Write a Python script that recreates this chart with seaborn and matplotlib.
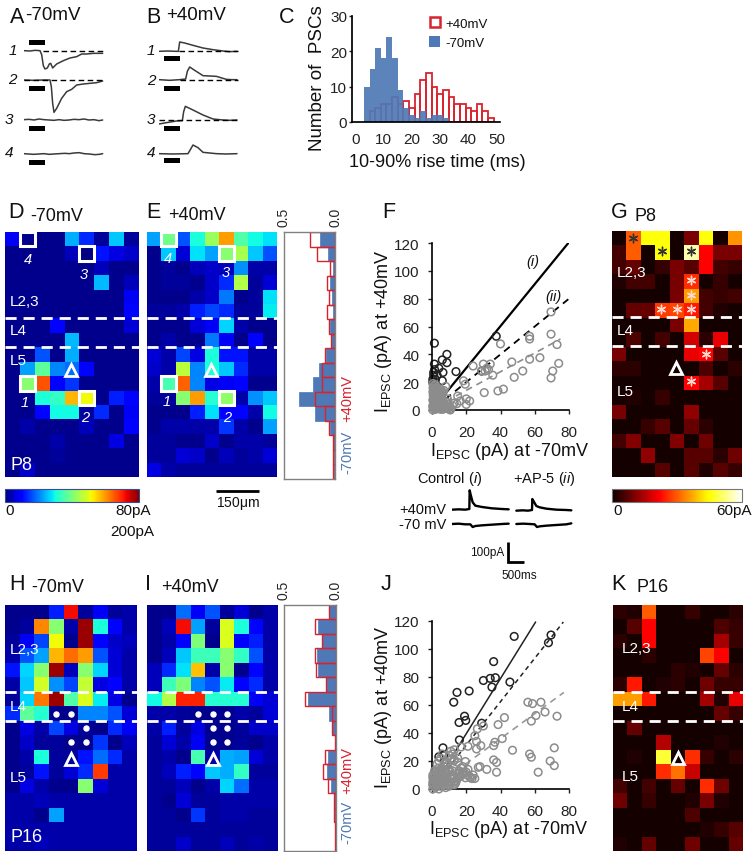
import numpy as np
import matplotlib
matplotlib.use('Agg')
import matplotlib.pyplot as plt
from matplotlib.patches import Rectangle
from matplotlib.cm import ScalarMappable
from matplotlib.colors import Normalize
import seaborn as sns

W, H = 754, 853

# ---- heat maps: 17 rows x 9 columns, values in pA
map_d = [
    [10, 3, 3, 3, 25, 15, 4, 27, 4],
    [3, 3, 3, 3, 6, 2, 13, 9, 7],
    [3, 3, 3, 3, 3, 3, 6, 3, 3],
    [3, 3, 3, 3, 3, 3, 26, 3, 6],
    [3, 3, 3, 3, 3, 3, 3, 3, 10],
    [3, 3, 3, 3, 3, 3, 3, 3, 12],
    [3, 3, 3, 12, 3, 3, 3, 3, 8],
    [3, 3, 3, 3, 26, 3, 3, 3, 3],
    [3, 3, 18, 3, 25, 3, 3, 3, 3],
    [3, 24, 38, 22, 20, 12, 3, 3, 3],
    [3, 42, 66, 11, 16, 3, 3, 3, 3],
    [3, 3, 32, 34, 58, 52, 3, 14, 12],
    [3, 3, 12, 31, 31, 4, 15, 3, 10],
    [3, 5, 3, 3, 3, 6, 3, 3, 12],
    [3, 3, 3, 5, 3, 3, 3, 9, 3],
    [3, 3, 3, 4, 3, 3, 3, 3, 3],
    [3, 7, 3, 3, 3, 3, 3, 3, 3],
]
map_e = [
    [24, 40, 18, 32, 44, 60, 37, 31, 29],
    [3, 27, 8, 29, 24, 42, 45, 27, 18],
    [3, 4, 3, 6, 7, 6, 23, 5, 5],
    [3, 4, 4, 3, 7, 15, 46, 4, 8],
    [3, 3, 3, 5, 7, 21, 3, 4, 29],
    [4, 4, 5, 14, 17, 15, 4, 4, 30],
    [3, 3, 3, 8, 10, 28, 5, 3, 3],
    [3, 5, 3, 3, 21, 10, 3, 11, 3],
    [8, 5, 17, 9, 32, 13, 13, 5, 5],
    [7, 5, 47, 22, 32, 27, 15, 5, 5],
    [5, 36, 65, 22, 9, 10, 12, 3, 3],
    [4, 4, 42, 60, 33, 43, 5, 23, 27],
    [3, 3, 3, 14, 29, 12, 12, 5, 31],
    [3, 5, 5, 5, 5, 16, 5, 3, 24],
    [4, 4, 3, 3, 7, 3, 5, 5, 4],
    [4, 4, 8, 7, 3, 6, 4, 5, 8],
    [9, 5, 4, 4, 4, 4, 4, 4, 4],
]
map_g = [
    [1, 30, 45, 45, 1, 10, 45, 1, 35],
    [5, 30, 1, 45, 1, 55, 22, 10, 10],
    [5, 8, 1, 4, 10, 7, 22, 5, 4],
    [2, 5, 5, 1, 10, 26, 1, 4, 1],
    [1, 1, 1, 1, 10, 36, 5, 4, 5],
    [1, 8, 8, 27, 28, 24, 5, 2, 1],
    [1, 1, 1, 1, 10, 37, 1, 1, 1],
    [1, 6, 1, 5, 1, 18, 3, 20, 1],
    [10, 1, 1, 1, 1, 20, 22, 7, 1],
    [3, 3, 1, 1, 1, 1, 6, 1, 3],
    [1, 1, 1, 1, 1, 22, 14, 7, 1],
    [1, 2, 1, 4, 1, 1, 1, 1, 1],
    [10, 1, 1, 1, 1, 12, 1, 1, 1],
    [1, 1, 4, 7, 1, 8, 3, 1, 1],
    [5, 11, 1, 1, 11, 1, 9, 1, 1],
    [1, 1, 12, 1, 1, 7, 7, 3, 9],
    [1, 1, 1, 7, 1, 7, 2, 7, 4],
]
map_h = [
    [3, 3, 3, 14, 72, 4, 10, 4, 5],
    [3, 4, 62, 42, 5, 78, 32, 12, 5],
    [4, 10, 17, 52, 3, 78, 12, 7, 6],
    [5, 18, 24, 58, 64, 60, 18, 8, 5],
    [13, 28, 42, 78, 6, 42, 28, 8, 5],
    [5, 27, 49, 23, 17, 48, 9, 12, 5],
    [4, 28, 63, 78, 37, 50, 30, 9, 3],
    [15, 38, 33, 3, 3, 22, 22, 18, 8],
    [3, 9, 5, 17, 9, 4, 3, 15, 10],
    [3, 7, 4, 4, 3, 3, 16, 3, 6],
    [3, 5, 32, 4, 4, 13, 20, 15, 5],
    [3, 4, 13, 4, 8, 15, 68, 5, 5],
    [3, 9, 5, 3, 3, 42, 8, 5, 5],
    [5, 5, 6, 5, 5, 5, 5, 5, 5],
    [5, 5, 3, 24, 5, 5, 5, 5, 5],
    [5, 5, 5, 5, 5, 5, 5, 5, 5],
    [5, 5, 6, 5, 5, 5, 5, 5, 5],
]
map_i = [
    [3, 3, 20, 10, 18, 4, 8, 3, 5],
    [3, 6, 72, 24, 4, 50, 32, 12, 5],
    [3, 5, 12, 41, 3, 50, 11, 14, 5],
    [3, 6, 27, 35, 35, 42, 34, 18, 5],
    [6, 15, 29, 57, 5, 42, 3, 12, 5],
    [6, 35, 41, 22, 18, 30, 12, 15, 5],
    [31, 46, 70, 70, 33, 33, 33, 10, 8],
    [5, 5, 4, 3, 3, 3, 5, 4, 8],
    [5, 14, 4, 9, 3, 3, 4, 7, 7],
    [4, 8, 5, 10, 3, 3, 4, 3, 5],
    [4, 5, 3, 36, 5, 25, 24, 8, 5],
    [4, 6, 14, 12, 27, 25, 34, 4, 4],
    [4, 4, 6, 3, 5, 28, 20, 5, 5],
    [4, 3, 8, 4, 4, 5, 5, 5, 5],
    [4, 4, 3, 16, 4, 5, 5, 4, 4],
    [4, 4, 4, 4, 4, 4, 4, 4, 4],
    [4, 4, 7, 4, 4, 6, 4, 5, 4],
]
map_k = [
    [3, 2, 30, 1, 1, 4, 1, 1, 3],
    [1, 7, 22, 1, 1, 1, 1, 6, 4],
    [3, 1, 22, 1, 1, 1, 1, 14, 4],
    [1, 1, 3, 1, 1, 1, 28, 22, 1],
    [1, 1, 1, 1, 3, 2, 1, 8, 3],
    [3, 24, 1, 2, 3, 1, 9, 4, 4],
    [36, 36, 24, 1, 1, 1, 14, 2, 20],
    [1, 1, 1, 1, 1, 1, 1, 8, 4],
    [1, 8, 1, 1, 1, 1, 1, 1, 1],
    [1, 1, 1, 15, 1, 1, 1, 2, 1],
    [1, 2, 1, 48, 1, 26, 4, 1, 3],
    [1, 1, 1, 26, 32, 17, 1, 1, 1],
    [5, 1, 5, 1, 8, 1, 26, 9, 1],
    [9, 1, 4, 1, 1, 2, 10, 2, 1],
    [1, 1, 1, 1, 1, 6, 1, 1, 1],
    [1, 1, 1, 1, 1, 1, 2, 4, 7],
    [2, 1, 8, 1, 1, 9, 1, 1, 8],
]

# ---- side histograms per row
side_e_blue = [.148, .07, .02, .05, .03, .02, .05, .04, .09, .155, .215, .35, .2, .05, .015, .01, .01]
side_e_red = [.25, .18, .05, .075, .055, .08, .055, .04, .095, .13, .13, .2, .1, .055, .02, .02, .02]
side_i_blue = [.07, .175, .13, .185, .17, .1, .27, .07, .04, .005, .075, .09, .05, .015, .015, .01, .01]
side_i_red = [.07, .2, .13, .2, .19, .1, .3, .035, .04, .005, .11, .125, .075, .015, .015, .01, .01]

# ---- panel C rise times
rise_blue_left = [3, 5, 7, 9, 11, 13, 15, 17, 19, 21, 23, 25, 27, 29, 31]
rise_blue = [10, 15, 21, 18, 24, 18, 9, 4, 2, 1, 3, 1, 2, 2, 1]
rise_red_left = [5, 7, 9, 11, 13, 15, 17, 19, 21, 23, 25, 27, 29, 31, 33, 35, 37, 39, 41, 43, 45, 47]
rise_red = [3, 4, 5, 5, 7, 5, 6, 4, 8, 12, 14, 10, 8, 9, 7, 5, 5, 4, 3, 5, 3, 1]

# ---- scatter F
f_black_x = [1.4, 1.4, 6, 8.7, 8.7, 6.4, 6, 14, 37.5, 29, 1, 1, 0.5, 0.5, 1, 1.5, 2, 3, 4]
f_black_y = [48, 33, 36, 40, 34, 27, 21, 27.6, 53, 28, 27, 25, 22, 20, 18, 29, 22, 25, 30]
f_grey_x = [40, 57, 57, 69.5, 69.5, 73, 74, 70.5, 69.5, 63, 57, 53, 48, 46.6, 41.7, 38.5, 30.5, 35.5,
            24, 30, 34, 32, 33, 31, 29, 18.4, 19.4, 22, 20, 20, 16.5, 14.5, 10.7,
            0.5, 1, 0.5, 1.5, 2, 1, 0.5, 2.5, 3, 1, 4, 2, 3, 5, 1.5, 0.5, 6, 4, 7, 5, 3, 8, 6, 2, 9, 7, 4,
            10, 8, 5, 1, 3, 11, 6, 0.5, 2, 4, 12, 9, 7, 5, 13, 3, 1, 8, 6, 15,
            0.5, 1.2, 2.2, 3.1, 4.3, 5.2, 6.3, 7.2, 8.3, 9.4, 10.2, 0.8, 1.7, 2.6, 3.5, 4.6, 5.7, 6.6, 7.7, 8.6,
            1.1, 2.1, 3.2, 4.1, 5.3, 6.2, 0.6, 1.6, 2.7, 3.8, 4.9, 1.3, 2.4, 0.7, 1.8]
f_grey_y = [47.5, 53, 51, 54.5, 70.5, 47, 33.5, 28, 23, 37.6, 36.5, 28, 23.5, 34.5, 15, 13.7, 12.5, 25,
            31.6, 33, 33, 30, 29, 28, 28, 21, 18.5, 6.5, 8, 4, 6.5, 4.5, 0,
            0, 1, 3, 2, 0.5, 5, 7, 4, 1, 9, 3, 7, 6, 0.5, 11, 13, 2, 5, 1, 4, 9, 3, 6, 15, 1, 4, 8,
            2, 6, 10, 17, 12, 1, 4, 19, 18, 11, 3, 8, 14, 15, 5, 16, 15, 17, 12, 10,
            2.5, 4, 1.5, 6, 2, 8, 0.5, 3, 1.5, 4, 0.5, 8, 6, 10, 3, 7, 9, 5, 2.5, 5.5,
            11, 12, 13, 10, 12, 13, 16, 14, 9, 13, 11, 18, 16, 10.5, 9]
f_line_x = [2, 79.6]
f_line_i = [3, 120]
f_line_ii = [2, 79.6]
f_line_grey = [2, 51]
f_line_grey_x = [2, 75]

# ---- scatter J
j_black_x = [48, 69.5, 68, 36, 30, 34, 37, 35, 45.5, 21.7, 14.6, 12.7, 19, 19.7, 15.8, 29, 16, 6.4, 4, 6.8]
j_black_y = [109, 110, 104.5, 91, 77.5, 79, 79.5, 72.8, 76.4, 70, 69, 62, 52, 49, 47.5, 47, 35, 29.4, 23, 24]
j_grey_x = [73, 66, 63.6, 58.7, 56, 60.7, 58, 42.3, 38.6, 30, 26.5, 25, 41, 36.7, 36, 26, 28.5, 26, 21, 17,
            47, 57, 58, 71.4, 69, 71.4, 62, 37.7, 36, 37.7, 32, 27, 28, 19.5, 18, 20, 24, 22, 25, 21,
            0.5, 1, 0.5, 2, 1, 3, 0.5, 2, 4, 1, 3, 5, 2, 6, 4, 0.5, 7, 3, 5, 8, 1.5, 6, 9, 4, 7, 10, 2, 5, 8, 11,
            3, 6, 9, 12, 13, 7, 10, 14, 4, 8, 11, 15, 5, 9, 12, 16, 6, 13, 14, 17, 10, 15, 18, 11, 16, 12, 13, 15,
            0.4, 1.3, 2.4, 3.5, 4.6, 5.7, 6.4, 7.5, 8.6, 9.7, 10.5, 11.6, 1.6, 2.7, 3.8, 4.4, 5.4, 6.8, 7.8, 8.8,
            9.5, 10.8, 12.5, 13.6, 14.5, 15.7, 16.6, 17.5, 18.6, 19.5, 20.4, 22.5, 23.4, 5.6, 7.2, 8.4, 11.2, 12.8]
j_grey_y = [52, 55, 62, 61, 62, 52.5, 48.5, 51, 46, 45, 43, 38, 36, 33.4, 31, 34, 31, 28.6, 30.5, 30,
            27.7, 25, 22.7, 29.4, 20, 16.7, 12, 12, 20.8, 19, 14, 15.5, 16, 19.6, 16, 12, 10, 9, 7.5, 14,
            0, 2, 5, 1, 8, 3, 10, 6, 0, 4, 7, 2, 10, 5, 9, 8, 3, 12, 6, 1, 13, 10, 4, 15, 7, 2, 12, 14, 9, 5,
            18, 13, 11, 7, 3, 16, 14, 6, 20, 18, 10, 8, 22, 17, 13, 11, 25, 21, 5, 15, 24, 19, 12, 27, 9, 25, 28, 22,
            3, 6, 4, 7, 3.5, 9, 6, 4.5, 7, 3, 5, 8, 10, 8, 11, 6.5, 13, 2.5, 11, 5.5,
            14, 12, 9, 4, 7, 13, 9, 11, 12, 8, 10, 8, 7.5, 15, 16, 19, 21, 20]
j_line_x = [3, 60.5]
j_line_i = [6, 119.3]
j_line_ii_x = [3, 76.7]
j_line_ii = [5, 119.3]
j_line_grey_x = [3, 77]
j_line_grey = [3, 69]

# ---- example currents, panels A and B (time in a.u., current in a.u.)
a1_t = [0, 18, 33, 48, 53, 58, 63, 70, 76, 80, 86, 98, 118, 138, 158, 173, 188, 208, 236]
a1_i = [0, -1, 1, 0, -12, -45, -55, -52, -40, -38, -52, -40, -30, -22, -18, -10, -10, -8, -8]
a2_t = [0, 28, 58, 78, 82, 86, 90, 98, 113, 128, 143, 158, 178, 198, 218, 236]
a2_i = [0, -1, 0, 0, -20, -70, -97, -85, -55, -35, -28, -15, -12, -10, -8, -3]
a3_t = [0, 15, 30, 45, 60, 75, 90, 105, 120, 135, 150, 165, 180, 195, 210, 225, 236]
a3_i = [0, 1, -1, 2, 0, -1, -2, 0, -2, -1, 1, 0, 2, -1, 0, -3, -1]
a4_t = [0, 14, 29, 44, 60, 76, 90, 106, 122, 136, 150, 166, 180, 196, 212, 226, 236]
a4_i = [0, -1, -2, -1, 0, -2, -1, 0, 1, 0, 2, 3, 0, -1, -3, -2, 0]
b1_t = [0, 26, 52, 58, 62, 77, 102, 132, 162, 192, 210, 234]
b1_i = [0, 1, 0, 0, 28, 25, 18, 10, 5, 1, -1, 0]
b2_t = [0, 32, 62, 80, 85, 92, 107, 132, 172, 202, 218, 234]
b2_i = [0, -2, 0, 2, 25, 38, 28, 12, 10, 1, 0, 0]
b3_t = [0, 22, 52, 70, 74, 79, 102, 132, 162, 192, 212, 234]
b3_i = [-12, -8, -3, -2, 25, 41, 30, 15, 3, 0, -1, 0]
b4_t = [0, 40, 87, 94, 102, 117, 132, 172, 200, 234]
b4_i = [0, -1, 0, 12, 26, 18, 4, 0, -1, 0]

# ---- inset traces under panel F
ctrl_pos_t = [0, 20, 40, 52, 53, 56, 62, 70, 90, 120, 150, 170]
ctrl_pos_i = [0, 1, 0, 2, 58, 45, 22, 12, 8, 4, 2, 1]
ap5_pos_t = [0, 20, 35, 47, 48, 52, 60, 70, 90, 120, 150, 165]
ap5_pos_i = [0, 1, 0, 2, 35, 28, 14, 10, 6, 3, 2, 1]
ctrl_neg_t = [0, 20, 40, 55, 62, 70, 90, 120, 150, 170]
ctrl_neg_i = [0, 1, -1, -1, -9, -6, -4, -2, 0, 1]
ap5_neg_t = [0, 20, 40, 55, 62, 70, 90, 120, 150, 165]
ap5_neg_i = [0, 1, 0, -1, -9, -7, -5, -3, -1, 2]

BLUE = '#4f79b6'
RED = '#d8232f'
sns.set_theme(style='ticks')
plt.rcParams['font.family'] = ['Liberation Sans', 'DejaVu Sans']
plt.rcParams['mathtext.fontset'] = 'custom'
plt.rcParams['mathtext.rm'] = 'Liberation Sans'
plt.rcParams['mathtext.it'] = 'Liberation Sans:italic'
plt.rcParams['mathtext.default'] = 'regular'

fig = plt.figure(figsize=(W / 100, H / 100), dpi=100)


def px_axes(x0, y0, x1, y1):
    return fig.add_axes([x0 / W, 1 - y1 / H, (x1 - x0) / W, (y1 - y0) / H])


def draw_map(box, values, cmap, vmin, vmax, dashes, triangle):
    ax = px_axes(*box)
    sns.heatmap(np.array(values), ax=ax, cmap=cmap, vmin=vmin, vmax=vmax, cbar=False,
                xticklabels=False, yticklabels=False)
    for y in dashes:
        ax.plot([0, 9], [y, y], color='white', lw=2, dashes=(4, 2.5))
    ax.plot([triangle[0]], [triangle[1]], marker='^', ms=8.5, mfc='none', mec='white', mew=2, clip_on=False)
    return ax


def white_boxes(ax, cells):
    for col, row in cells:
        ax.add_patch(Rectangle((col, row), 1, 1, fill=False, ec='white', lw=2.2, zorder=5))


def white_dots(ax, cells):
    xs = [c[0] for c in cells]
    ys = [c[1] for c in cells]
    ax.scatter(xs, ys, s=13, color='white', zorder=5)


def side_hist(box, blue, red):
    ax = px_axes(*box)
    rows = np.arange(17) + 0.5
    edges = list(range(18))
    sns.histplot(y=rows, weights=blue, bins=edges, ax=ax, color=BLUE, alpha=1, edgecolor=BLUE, linewidth=0.5)
    sns.histplot(y=rows, weights=red, bins=edges, ax=ax, color=RED, fill=False, linewidth=1)
    ax.set_xlim(0.5, 0)
    ax.set_ylim(17, 0)
    ax.set_xlabel('')
    ax.set_ylabel('')
    ax.set_yticks([])
    ax.xaxis.tick_top()
    ax.set_xticks([0.5, 0.0])
    ax.set_xticklabels(['0.5', '0.0'], rotation=90, fontsize=10)
    ax.tick_params(axis='x', length=0, pad=4)
    for s in ax.spines.values():
        s.set_color('#808080')
        s.set_visible(True)
        s.set_linewidth(1)
    return ax


def draw_traces(box, ylim, traces, color='#3a3a3a', lw=1.1):
    ax = px_axes(*box)
    xmax = (box[2] - box[0]) * 3
    for t, i, x_off, base in traces:
        sns.lineplot(x=np.array(t) + x_off, y=base - np.array(i), ax=ax, color=color, lw=lw,
                     estimator=None, sort=False)
    ax.set_xlim(0, xmax)
    ax.set_ylim(*ylim)
    ax.axis('off')
    return ax


def iv_scatter(box, bx, by, gx, gy, lines):
    ax = px_axes(*box)
    for x, y, col, style, lw in lines:
        sns.lineplot(x=x, y=y, ax=ax, color=col, lw=lw, linestyle=style, estimator=None, sort=False, zorder=1)
    sns.scatterplot(x=bx, y=by, ax=ax, s=30, facecolor='none', edgecolor='#222222', linewidth=1.1, clip_on=False,
                    zorder=2)
    sns.scatterplot(x=gx, y=gy, ax=ax, s=30, facecolor='none', edgecolor='#8c8c8c', linewidth=1.1, clip_on=False,
                    zorder=3)
    ax.set_xlim(0, 80)
    ax.set_ylim(0, 120)
    ax.set_xticks([0, 20, 40, 60, 80])
    ax.set_yticks([0, 20, 40, 60, 80, 100, 120])
    ax.tick_params(labelsize=11, length=3, width=1, colors='#222222')
    ax.tick_params(axis='x', pad=8)
    ax.tick_params(axis='y', pad=6)
    sns.despine(ax=ax)
    for s in ax.spines.values():
        s.set_color('black')
        s.set_linewidth(1.2)
    return ax


# ---- traces A / B
draw_traces((24, 40, 104, 175), (525, 120), [
    (a1_t, a1_i, 0, 155), (a2_t, a2_i, 0, 243), (a3_t, a3_i, 0, 362), (a4_t, a4_i, 0, 464)])
draw_traces((159, 40, 239, 175), (525, 120), [
    (b1_t, b1_i, 0, 157), (b2_t, b2_i, 0, 242), (b3_t, b3_i, 0, 363), (b4_t, b4_i, 0, 464)])

# ---- panel C
ax_c = px_axes(352, 17, 500, 123)
sns.histplot(x=np.array(rise_red_left) + 1, weights=rise_red, bins=list(range(5, 50, 2)), ax=ax_c,
             color=RED, fill=False, linewidth=1.3)
sns.histplot(x=np.array(rise_blue_left) + 1, weights=rise_blue, bins=list(range(3, 34, 2)), ax=ax_c,
             color=BLUE, alpha=0.92, edgecolor='none')
ax_c.set_xlim(-1.2, 51.2)
ax_c.set_ylim(0, 30)
ax_c.set_xticks([0, 10, 20, 30, 40, 50])
ax_c.set_yticks([0, 10, 20, 30])
ax_c.tick_params(axis='x', length=0, pad=7, labelsize=11, colors='#222222')
ax_c.tick_params(axis='y', length=2, width=1, pad=1.5, labelsize=11, colors='#222222')
ax_c.set_xlabel('')
ax_c.set_ylabel('')
sns.despine(ax=ax_c)
for s in ax_c.spines.values():
    s.set_color('black')

# ---- heat maps
ax_d = draw_map((5, 233, 139, 478), map_d, 'jet', 2, 80, [6, 7.95], (4.4, 9.6))
white_boxes(ax_d, [(1, 0), (5, 1), (1, 10), (5, 11)])
ax_e = draw_map((147, 233, 277, 478), map_e, 'jet', 2, 80, [6, 7.95], (4.4, 9.6))
white_boxes(ax_e, [(1, 0), (5, 1), (1, 10), (5, 11)])
ax_g = draw_map((612, 232, 742, 478), map_g, 'hot', 0, 60, [5.95, 7.95], (4.4, 9.5))
ax_g.scatter([1.45, 3.45, 5.5], [0.5, 1.4, 1.4], marker=(6, 2, 0), s=38, color='#333333', lw=1, zorder=5)
ax_g.scatter([5.5, 5.5, 3.4, 4.5, 5.5, 6.5, 5.5], [3.4, 4.45, 5.4, 5.4, 5.4, 8.5, 10.4], marker=(6, 2, 0),
             s=38, color='#ffd9d0', lw=1, zorder=5)
ax_h = draw_map((5, 606, 137, 852), map_h, 'jet', 2, 80, [6, 8], (4.5, 10.67))
white_dots(ax_h, [(3.5, 7.5), (4.5, 7.5), (5.5, 8.5), (4.5, 9.5), (5.5, 9.5)])
ax_i = draw_map((147, 606, 278, 852), map_i, 'jet', 2, 80, [6, 8], (4.5, 10.67))
white_dots(ax_i, [(3.5, 7.5), (4.5, 7.5), (5.5, 7.5), (4.5, 8.5), (5.5, 8.5), (4.5, 9.5), (5.5, 9.5)])
ax_k = draw_map((613, 606, 743, 852), map_k, 'hot', 0, 60, [6, 8], (4.5, 10.6))

side_hist((284, 233, 335, 480), side_e_blue, side_e_red)
side_hist((284, 606, 336, 852), side_i_blue, side_i_red)

# ---- color bars
for box, cmap, vmax, col in [((5, 490, 139, 503), 'jet', 80, '#3a4a9a'), ((612, 490, 742, 503), 'hot', 60, '#777777')]:
    cax = px_axes(*box)
    cb = fig.colorbar(ScalarMappable(Normalize(0, vmax), cmap), cax=cax, orientation='horizontal')
    cb.set_ticks([])
    cb.outline.set_edgecolor(col)
    cb.outline.set_linewidth(0.8)

# ---- scatter F / J
iv_scatter((432, 244, 569, 411), f_black_x, f_black_y, f_grey_x, f_grey_y, [
    (f_line_x, f_line_i, 'black', '-', 1.6),
    (f_line_x, f_line_ii, 'black', (0, (4, 3)), 1.3),
    (f_line_grey_x, f_line_grey, '#8c8c8c', (0, (4, 3)), 1.2)])
iv_scatter((432, 622, 569, 790), j_black_x, j_black_y, j_grey_x, j_grey_y, [
    (j_line_x, j_line_i, '#222222', '-', 1.1),
    (j_line_ii_x, j_line_ii, '#222222', (0, (3, 2.5)), 1.1),
    (j_line_grey_x, j_line_grey, '#9a9a9a', (0, (4, 3)), 1.2)])

# ---- inset traces
draw_traces((452, 485, 577, 535), (345, 195), [
    (ctrl_pos_t, ctrl_pos_i, 0, 272), (ap5_pos_t, ap5_pos_i, 193, 275),
    (ctrl_neg_t, ctrl_neg_i, 0, 315), (ap5_neg_t, ap5_neg_i, 193, 315)], color='black', lw=1.7)

# ---- everything in pixel position goes here
ov = fig.add_axes([0, 0, 1, 1], zorder=20)
ov.set_xlim(0, W)
ov.set_ylim(H, 0)
ov.axis('off')
ov.patch.set_alpha(0)


def txt(x, y, s, size=11.5, color='#111111', **kw):
    kw.setdefault('ha', 'left')
    kw.setdefault('va', 'center')
    ov.text(x, y, s, fontsize=size, color=color, **kw)


# stimulus bars and dashed baselines
for x0, ys in [(29, [41, 87, 127, 161]), (164, [57, 87, 127, 159])]:
    for y in ys:
        ov.add_patch(Rectangle((x0, y), 16, 4.5, color='black', lw=0))
for x0, x1, y in [(43, 103, 52), (24, 103, 81), (179, 238, 52), (180, 238, 81), (159, 238, 121)]:
    ov.plot([x0, x1], [y, y], color='black', lw=1, dashes=(4, 2.5))

# panel letters
for x, y, s in [(10, 17, 'A'), (146, 17, 'B'), (279, 17, 'C'), (8, 212, 'D'), (146, 212, 'E'), (382, 212, 'F'),
                (611, 212, 'G'), (9, 585, 'H'), (145, 585, 'I'), (381, 585, 'J'), (611, 585, 'K')]:
    txt(x, y, s, size=15.5)
for x, y, s in [(25, 15, '-70mV'), (166, 15, '+40mV')]:
    txt(x, y, s, size=13.5)
for x, y, s in [(30, 216, '-70mV'), (168, 215, '+40mV'), (634, 216, 'P8'),
                (31, 587, '-70mV'), (161, 587, '+40mV'), (637, 588, 'P16')]:
    txt(x, y, s, size=13)

# trace numbers
for x, y, s in [(9, 51, '1'), (8, 80, '2'), (5, 120, '3'), (5, 153, '4'), (147, 51, '1'), (147, 81, '2'),
                (147, 120, '3'), (147, 153, '4')]:
    txt(x, y, s, size=11, style='italic')
for x, y, s in [(28, 260, '4'), (84, 275, '3'), (25, 403, '1'), (85, 418, '2'),
                (168, 259, '4'), (226, 273, '3'), (167, 402, '1'), (227, 418, '2')]:
    txt(x, y, s, size=10.5, color='white', style='italic', ha='center')

# layer labels
for x, ys in [(10, (302, 331, 361)), (617, (273, 331, 392))]:
    for y, s in zip(ys, ['L2,3', 'L4', 'L5']):
        txt(x, y, s, size=11, color='white')
for x, ys in [(10, (650, 707, 778)), (622, (649, 707, 777))]:
    for y, s in zip(ys, ['L2,3', 'L4', 'L5']):
        txt(x, y, s, size=11, color='white')
txt(10, 466, 'P8', size=13, color='white')
txt(11, 838, 'P16', size=13, color='white')

# panel C labels
txt(318, 78, 'Number of  PSCs', size=13.5, rotation=90, ha='center')
txt(437, 162, '10-90% rise time (ms)', size=13, ha='center')
ov.add_patch(Rectangle((430, 18), 10, 10, fc='white', ec=RED, lw=1.8))
ov.add_patch(Rectangle((429, 37), 11, 11, fc=BLUE, ec='none'))
txt(445, 25, '+40mV', size=9.5)
txt(445, 44, '-70mV', size=9.5)

# color bar labels and scale bars
txt(5, 511, '0', size=11)
txt(115, 511, '80pA', size=11)
txt(110, 532, '200pA', size=11)
txt(613, 511, '0', size=11)
txt(716, 511, '60pA', size=11)
ov.plot([216, 259], [492, 492], color='black', lw=2, solid_capstyle='butt')
txt(238, 504, '150$\\mu$m', size=10, ha='center')

# rotated voltage labels
txt(347, 399, '+40mV', size=10.5, color=RED, rotation=90, ha='center')
txt(347, 452, '-70mV', size=10.5, color=BLUE, rotation=90, ha='center')
txt(347, 771, '+40mV', size=10.5, color=RED, rotation=90, ha='center')
txt(347, 822, '-70mV', size=10.5, color=BLUE, rotation=90, ha='center')

# scatter labels
ylab = '$I_{EPSC}$ (pA) at +40mV'
xlab = '$I_{EPSC}$ (pA) at -70mV'
txt(384, 331, ylab, size=13, rotation=90, ha='center')
txt(384, 707, ylab, size=13, rotation=90, ha='center')
txt(509, 452, xlab, size=13, ha='center')
txt(508, 830, xlab, size=13, ha='center')
txt(533, 262, '(i)', size=10.5, style='italic', ha='center')
txt(553, 297, '(ii)', size=10.5, style='italic', ha='center')

# inset labels
txt(417, 479, 'Control ($\\mathit{i}$)', size=10.5, ha='left')
txt(513, 479, '+AP-5 ($\\mathit{ii}$)', size=10.5, ha='left')
txt(399, 510, '+40mV', size=10.5)
txt(399, 525, '-70 mV', size=10.5)
ov.plot([508, 508, 524], [543, 563, 563], color='black', lw=2, solid_capstyle='butt', solid_joinstyle='miter')
txt(470, 553, '100pA', size=8.5)
txt(501, 576, '500ms', size=8.5)

fig.savefig('out.png', dpi=100)
